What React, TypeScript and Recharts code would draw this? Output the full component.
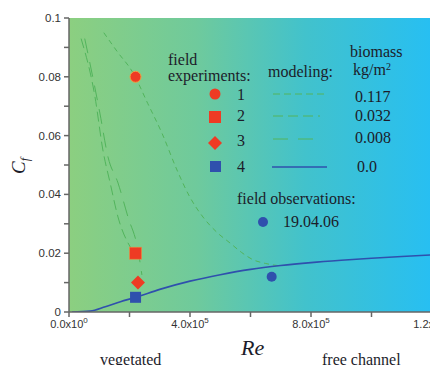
import { ComposedChart, Line, Scatter, XAxis, YAxis, ReferenceArea } from "recharts";

// Re axis ticks (major ones get labels)
const reTicks = [0, 2e5, 4e5, 6e5, 8e5, 1e6, 1.2e6];
const reTickLabels: Record<number, [string, string]> = {
  0: ["0.0x10", "0"],
  400000: ["4.0x10", "5"],
  800000: ["8.0x10", "5"],
  1200000: ["1.2x10", "6"],
};
const cfTicks = [0, 0.01, 0.02, 0.03, 0.04, 0.05, 0.06, 0.07, 0.08, 0.09, 0.1];
const cfTickLabels: Record<string, string> = {
  "0": "0",
  "0.02": "0.02",
  "0.04": "0.04",
  "0.06": "0.06",
  "0.08": "0.08",
  "0.1": "0.1",
};

// modeling curves, biomass 0.117 / 0.032 / 0.008 / 0.0 kg/m2
const re117 = [1.15e5, 1.6e5, 2.12e5, 2.6e5, 3.07e5, 3.57e5, 4e5, 4.43e5, 4.9e5, 5.32e5, 5.7e5, 6.08e5, 6.5e5, 6.9e5];
const cf117 = [0.095, 0.0885, 0.0813, 0.071, 0.0609, 0.0483, 0.039, 0.0323, 0.027, 0.0235, 0.0203, 0.0178, 0.0165, 0.0158];
const re032 = [0.4e5, 0.86e5, 1.12e5, 1.36e5, 1.62e5, 2.08e5, 2.18e5];
const cf032 = [0.093, 0.0731, 0.0551, 0.0439, 0.0323, 0.0211, 0.0194];
const re008 = [0.52e5, 0.69e5, 1.02e5, 1.29e5, 1.62e5, 1.95e5, 2.28e5, 2.41e5];
const cf008 = [0.093, 0.0847, 0.0677, 0.0527, 0.0439, 0.0323, 0.0211, 0.0126];
const re000 = [0.1e5, 0.7e5, 1.2e5, 1.7e5, 2.2e5, 3e5, 4e5, 5e5, 6e5, 7e5, 8e5, 9e5, 1e6, 1.1e6, 1.2e6];
const cf000 = [0, 0.0003, 0.0018, 0.0035, 0.005, 0.0077, 0.0105, 0.0127, 0.0145, 0.0158, 0.0168, 0.0176, 0.0183, 0.0189, 0.0194];

// field experiments 1-4 and field observation 19.04.06
const expRe = [2.2e5, 2.2e5, 2.28e5, 2.2e5];
const expCf = [0.08, 0.02, 0.01, 0.005];
const obsRe = [6.7e5];
const obsCf = [0.012];

const toPts = (xs: number[], ys: number[]) => xs.map((x, i) => ({ x, y: ys[i] }));

const RED = "#ee3b24";
const BLUE = "#2f50ad";
const GREEN = "#52b45c";
const SERIF = "'Liberation Serif', 'DejaVu Serif', serif";
const SANS = "'Liberation Sans', Arial, sans-serif";

const XTick = ({ x, y, payload }: any) => {
  const lab = reTickLabels[payload.value];
  if (!lab) return null;
  return (
    <text x={x} y={y + 9} textAnchor="middle" fontFamily={SANS} fontSize={11} fill="#333">
      {lab[0]}
      <tspan dy={-5} fontSize={8}>{lab[1]}</tspan>
    </text>
  );
};

const YTick = ({ x, y, payload }: any) => {
  const lab = cfTickLabels[String(payload.value)];
  if (!lab) return null;
  return (
    <text x={x - 1} y={y + 4} textAnchor="end" fontFamily={SANS} fontSize={11.5} fill="#333">
      {lab}
    </text>
  );
};

const expShape = (p: any) => {
  const i = p.index;
  if (i === 0) return <circle cx={p.cx} cy={p.cy} r={5.5} fill={RED} stroke="#f0a040" strokeWidth={1} />;
  if (i === 1)
    return <rect x={p.cx - 6} y={p.cy - 6} width={12} height={12} fill={RED} stroke="#f08a3c" strokeWidth={0.6} />;
  if (i === 2)
    return (
      <polygon
        points={`${p.cx},${p.cy - 7} ${p.cx + 7},${p.cy} ${p.cx},${p.cy + 7} ${p.cx - 7},${p.cy}`}
        fill={RED}
      />
    );
  return <rect x={p.cx - 5.5} y={p.cy - 5.5} width={11} height={11} fill={BLUE} />;
};

export default function App() {
  return (
    <div style={{ position: "absolute", left: 0, top: 0, width: 430, height: 365, overflow: "hidden", background: "#fff" }}>
      <ComposedChart width={440} height={365} margin={{ top: 18, right: 8, bottom: 33, left: 0 }}>
        <defs>
          <linearGradient id="bg" x1="0" y1="0" x2="1" y2="0">
            <stop offset="0" stopColor="#8ccf80" />
            <stop offset="0.35" stopColor="#6fca9c" />
            <stop offset="0.65" stopColor="#42c2cc" />
            <stop offset="1" stopColor="#27bff2" />
          </linearGradient>
        </defs>
        <XAxis
          type="number"
          dataKey="x"
          domain={[0, 1.2e6]}
          ticks={reTicks}
          interval={0}
          tick={<XTick />}
          tickSize={5}
          height={20}
          stroke="#666"
          strokeWidth={1.5}
          allowDataOverflow
        />
        <YAxis
          type="number"
          dataKey="y"
          domain={[0, 0.1]}
          ticks={cfTicks}
          interval={0}
          tick={<YTick />}
          tickSize={5}
          width={69}
          stroke="#666"
          strokeWidth={1.5}
          allowDataOverflow
        />
        <ReferenceArea x1={0} x2={1.2e6} y1={0} y2={0.1} fill="url(#bg)" fillOpacity={1} stroke="none" />
        <Line data={toPts(re117, cf117)} dataKey="y" type="monotone" stroke={GREEN} strokeWidth={1} strokeDasharray="5 4" dot={false} isAnimationActive={false} />
        <Line data={toPts(re032, cf032)} dataKey="y" type="monotone" stroke={GREEN} strokeWidth={1} strokeDasharray="10 5" dot={false} isAnimationActive={false} />
        <Line data={toPts(re008, cf008)} dataKey="y" type="monotone" stroke={GREEN} strokeWidth={1} strokeDasharray="15 9" dot={false} isAnimationActive={false} />
        <Line data={toPts(re000, cf000)} dataKey="y" type="monotone" stroke={BLUE} strokeWidth={1.6} dot={false} isAnimationActive={false} />
        <Scatter data={toPts(expRe, expCf)} shape={expShape} isAnimationActive={false} />
        <Scatter data={toPts(obsRe, obsCf)} shape={(p: any) => <circle cx={p.cx} cy={p.cy} r={5} fill={BLUE} />} isAnimationActive={false} />
      </ComposedChart>
      <svg width={430} height={365} style={{ position: "absolute", left: 0, top: 0, pointerEvents: "none" }}>
        <g fontFamily={SERIF} fontSize={16} fill="#1c1c2a">
          <text>
            <tspan x={168} y={65}>field</tspan>
            <tspan x={168} y={81}>experiments:</tspan>
          </text>
          <text x={268} y={77}>modeling:</text>
          <text>
            <tspan x={350} y={57}>biomass</tspan>
            <tspan x={353} y={75}>kg/m</tspan>
            <tspan dy={-5} fontSize={10}>2</tspan>
          </text>
          <text x={237} y={100}>1</text>
          <text x={237} y={121}>2</text>
          <text x={237} y={146}>3</text>
          <text x={237} y={172}>4</text>
          <text x={355} y={102}>0.117</text>
          <text x={355} y={121}>0.032</text>
          <text x={355} y={143}>0.008</text>
          <text x={357} y={172}>0.0</text>
          <text x={237} y={204}>field observations:</text>
          <text x={283} y={227}>19.04.06</text>
          <text x={100} y={365}>vegetated</text>
          <text x={322} y={365}>free channel</text>
        </g>
        <circle cx={215} cy={94} r={5.5} fill={RED} />
        <rect x={209} y={111} width={12} height={12} fill={RED} />
        <polygon points="215,136 222,143 215,150 208,143" fill={RED} />
        <rect x={210} y={161} width={11} height={11} fill={BLUE} />
        <circle cx={263} cy={222} r={5} fill={BLUE} />
        <line x1={273} x2={326} y1={94} y2={94} stroke={GREEN} strokeDasharray="7 4" />
        <line x1={273} x2={320} y1={116} y2={116} stroke={GREEN} strokeDasharray="10 5" />
        <line x1={273} x2={318} y1={139} y2={139} stroke={GREEN} strokeDasharray="15 10" />
        <line x1={272} x2={327} y1={167} y2={167} stroke={BLUE} strokeWidth={1.6} />
        <text x={241} y={355} fontFamily={SERIF} fontStyle="italic" fontSize={22} fill="#1c1c2a">Re</text>
        <text transform="translate(25,174) rotate(-90)" fontFamily={SERIF} fontStyle="italic" fontSize={19} fill="#1c1c2a">
          C<tspan dy={4} fontSize={12}>f</tspan>
        </text>
      </svg>
    </div>
  );
}
